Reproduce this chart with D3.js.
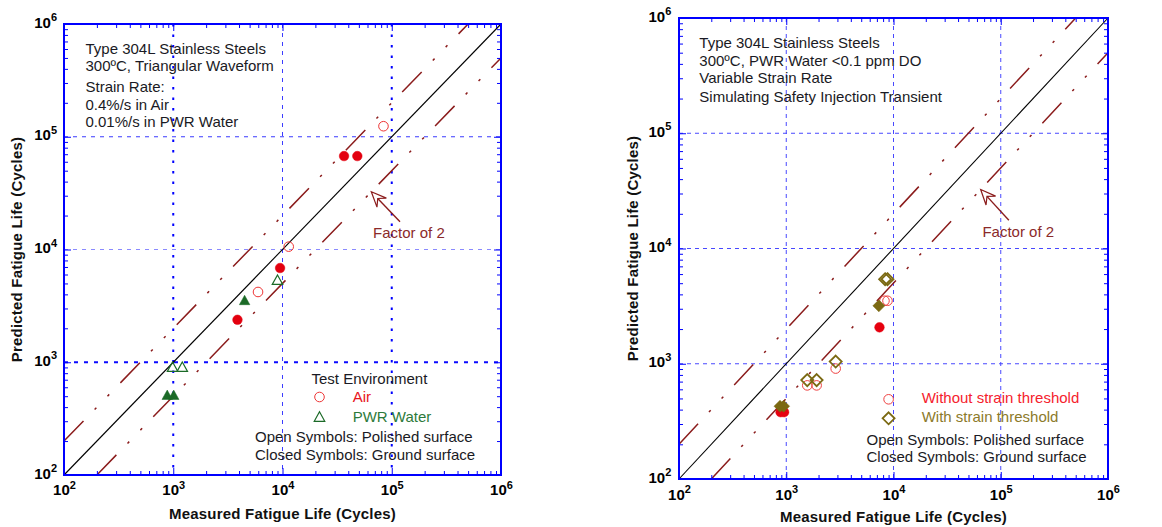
<!DOCTYPE html>
<html><head><meta charset="utf-8">
<script src="https://cdn.jsdelivr.net/npm/d3@7"></script>
<style>body{margin:0;background:#fff}svg{display:block}</style>
</head><body><svg id="c" width="1162" height="527"></svg>
<script>
// ---------------- data ----------------
const decadeTicks = [1e2, 1e3, 1e4, 1e5, 1e6];
const gridDecades = [1e3, 1e4, 1e5];
const minorMultipliers = [2, 3, 4, 5, 6, 7, 8, 9];
const xTitle = "Measured Fatigue Life (Cycles)";
const yTitle = "Predicted Fatigue Life (Cycles)";

// left panel: [measured, predicted]
const airPolished = [[8.4e4, 1.24e5], [1.14e4, 1.06e4], [5.97e3, 4.2e3]];
const airGround = [[3.66e4, 6.74e4], [4.84e4, 6.74e4], [9.5e3, 6.85e3], [3.87e3, 2.38e3]];
const pwrPolished = [[9.0e3, 5.3e3], [986, 895], [1.21e3, 895]];
const pwrGround = [[4.5e3, 3.5e3], [881, 505], [1.01e3, 505]];
const leftNotes = ["Type 304L Stainless Steels", "300ºC, Triangular Waveform", "Strain Rate:", "0.4%/s in Air", "0.01%/s in PWR Water"];
const leftLegendTitle = "Test Environment";
const leftLegendItems = ["Air", "PWR Water"];
const surfaceNotes = ["Open Symbols: Polished surface", "Closed Symbols: Ground surface"];

// right panel: [measured, predicted]
const withoutPolished = [[8.24e3, 3.52e3], [8.79e3, 3.52e3], [2.89e3, 908], [1.57e3, 649], [1.92e3, 649]];
const withoutGround = [[7.4e3, 2.07e3], [885, 380], [955, 380]];
const withPolished = [[8.35e3, 5.42e3], [8.79e3, 5.42e3], [2.89e3, 1.045e3], [1.57e3, 721], [1.92e3, 721]];
const withGround = [[7.3e3, 3.18e3], [875, 428], [945, 428]];
const rightNotes = ["Type 304L Stainless Steels", "300ºC, PWR Water <0.1 ppm DO", "Variable Strain Rate", "Simulating Safety Injection Transient"];
const rightLegendItems = ["Without strain threshold", "With strain threshold"];

// reference lines and annotation
const unityLine = [[1e2, 1e2], [1e6, 1e6]];
const upperFactorLine = [[1e2, 2e2], [5e5, 1e6]];
const lowerFactorLine = [[2e2, 1e2], [1e6, 5e5]];
const factorLabel = "Factor of 2";
const factorArrowTip = [6.5e4, 3.25e4];
const factorArrowTail = [1.19e5, 1.76e4];
const factorLabelAt = [6.75e4, 1.27e4];

// ---------------- drawing ----------------
const FONT = '"Liberation Sans", Arial, Helvetica, sans-serif';
const FS = 15;
const svg = d3.select("#c");
const TXT = "#1a1a24";
const FACTOR_C = "#8b1c1c";

function triPath(cx, cy, s) {
  const h = s * 0.9;
  return `M${cx},${cy - h * 0.6}L${cx + s / 2},${cy + h * 0.4}L${cx - s / 2},${cy + h * 0.4}Z`;
}
function diaPath(cx, cy, r) {
  return `M${cx},${cy - r}L${cx + r},${cy}L${cx},${cy + r}L${cx - r},${cy}Z`;
}

function drawPanel(p) {
  const x = d3.scaleLog().domain([1e2, 1e6]).range([p.left, p.right]);
  const y = d3.scaleLog().domain([1e2, 1e6]).range([p.bottom, p.top]);
  const g = svg.append("g");

  // grid
  gridDecades.forEach((v, i) => {
    const vs = p.vGrid[i], hs = p.hGrid[i];
    g.append("line").attr("x1", x(v)).attr("x2", x(v)).attr("y1", p.top).attr("y2", p.bottom)
      .attr("stroke", vs.c).attr("stroke-width", vs.w).attr("stroke-dasharray", vs.d);
    g.append("line").attr("y1", y(v)).attr("y2", y(v)).attr("x1", p.left).attr("x2", p.right)
      .attr("stroke", hs.c).attr("stroke-width", hs.w).attr("stroke-dasharray", hs.d);
  });

  const line = d3.line().x(d => x(d[0])).y(d => y(d[1]));
  [upperFactorLine, lowerFactorLine].forEach(L => {
    g.append("path").attr("d", line(L)).attr("fill", "none").attr("stroke", FACTOR_C)
      .attr("stroke-width", 1.5).attr("stroke-dasharray", "28,16,2.5,16,2.5,16");
  });
  g.append("path").attr("d", line(unityLine)).attr("fill", "none").attr("stroke", "#000").attr("stroke-width", 1.1);

  // markers
  p.series.forEach(s => {
    s.data.forEach(d => {
      const cx = x(d[0]), cy = y(d[1]);
      let el;
      if (s.shape === "circle") el = g.append("circle").attr("cx", cx).attr("cy", cy).attr("r", s.filled ? 4.8 : 4.8);
      else if (s.shape === "tri") el = g.append("path").attr("d", triPath(cx, cy, 10.5));
      else el = g.append("path").attr("d", diaPath(cx, cy, 6));
      if (s.filled) el.attr("fill", s.color).attr("stroke", s.color).attr("stroke-width", 0.5);
      else el.attr("fill", "none").attr("stroke", s.stroke || s.color).attr("stroke-width", s.sw || 1.1);
    });
  });

  // arrow annotation
  {
    const tx = x(factorArrowTip[0]), ty = y(factorArrowTip[1]);
    const sx = x(factorArrowTail[0]), sy = y(factorArrowTail[1]);
    const dx = tx - sx, dy = ty - sy, len = Math.hypot(dx, dy);
    const ux = dx / len, uy = dy / len, nx = -uy, ny = ux;
    const L = 15, W = 6.5;
    const bx = tx - ux * L, by = ty - uy * L;
    const mx = tx - ux * L * 0.62, my = ty - uy * L * 0.62;
    g.append("line").attr("x1", sx).attr("y1", sy).attr("x2", mx).attr("y2", my)
      .attr("stroke", FACTOR_C).attr("stroke-width", 1.4);
    g.append("path").attr("d", `M${tx},${ty}L${bx + nx * W},${by + ny * W}L${mx},${my}L${bx - nx * W},${by - ny * W}Z`)
      .attr("fill", "#fff").attr("stroke", FACTOR_C).attr("stroke-width", 1.2);
    g.append("text").attr("x", x(factorLabelAt[0])).attr("y", y(factorLabelAt[1]))
      .attr("font-family", FONT).attr("font-size", FS).attr("fill", "#8b2a2a").text(factorLabel);
  }

  // ticks (inward, all four sides)
  const minors = [];
  [1e2, 1e3, 1e4, 1e5].forEach(dec => minorMultipliers.forEach(m => minors.push(dec * m)));
  const tickSets = [[decadeTicks, 7], [minors, 4]];
  tickSets.forEach(([vals, size]) => {
    const defs = [
      [d3.axisBottom(x), `translate(0,${p.bottom})`],
      [d3.axisTop(x), `translate(0,${p.top})`],
      [d3.axisLeft(y), `translate(${p.left},0)`],
      [d3.axisRight(y), `translate(${p.right},0)`]
    ];
    defs.forEach(([ax, tr]) => {
      const a = g.append("g").attr("transform", tr)
        .call(ax.tickValues(vals).tickSizeInner(-size).tickSizeOuter(0).tickFormat(""));
      a.select(".domain").remove();
      a.selectAll("text").remove();
      a.selectAll("line").attr("stroke", "#0000ff").attr("stroke-width", 1);
    });
  });

  // border
  g.append("rect").attr("x", p.left).attr("y", p.top).attr("width", p.right - p.left).attr("height", p.bottom - p.top)
    .attr("fill", "none").attr("stroke", "#0000ff").attr("stroke-width", 2);

  // tick labels
  function sup(sel) {
    sel.each(function (d) {
      const t = d3.select(this);
      t.text(null);
      t.append("tspan").text("10");
      t.append("tspan").attr("font-size", 11).attr("dy", -6.5).text(Math.round(Math.log10(d)));
    });
  }
  const bl = g.append("g").attr("transform", `translate(0,${p.bottom})`)
    .call(d3.axisBottom(x).tickValues(decadeTicks).tickSize(0).tickPadding(p.xPad));
  bl.select(".domain").remove();
  bl.attr("font-family", FONT).attr("font-size", 15).attr("font-weight", "bold").attr("color", "#000");
  sup(bl.selectAll("text"));
  const ll = g.append("g").attr("transform", `translate(${p.left},0)`)
    .call(d3.axisLeft(y).tickValues(decadeTicks).tickSize(0).tickPadding(p.yPad));
  ll.select(".domain").remove();
  ll.attr("font-family", FONT).attr("font-size", 15).attr("font-weight", "bold").attr("color", "#000");
  ll.selectAll("text").attr("dy", "0.2em");
  sup(ll.selectAll("text"));

  // axis titles
  g.append("text").attr("x", (p.left + p.right) / 2).attr("y", p.xTitleY).attr("text-anchor", "middle")
    .attr("font-family", FONT).attr("font-size", 15).attr("font-weight", "bold").attr("fill", "#111")
    .attr("letter-spacing", 0.2).text(xTitle);
  g.append("text").attr("transform", `translate(${p.yTitleX},${(p.top + p.bottom) / 2}) rotate(-90)`).attr("text-anchor", "middle")
    .attr("font-family", FONT).attr("font-size", 15).attr("font-weight", "bold").attr("fill", "#111")
    .attr("letter-spacing", 0.2).text(yTitle);

  // notes
  p.notes.forEach((t, i) => {
    g.append("text").attr("x", p.left + p.noteDx).attr("y", p.top + p.noteDy[i])
      .attr("font-family", FONT).attr("font-size", FS).attr("fill", TXT).text(t);
  });

  p.legend(g);
}

drawPanel({
  left: 64, right: 501, top: 24, bottom: 475,
  xPad: 9.5, yPad: 7, xTitleY: 519, yTitleX: 21.5,
  vGrid: [{c: "#0000ff", w: 2, d: "2.5,8"}, {c: "#3c3cff", w: 1, d: "4,5"}, {c: "#0000ff", w: 2, d: "2.5,8"}],
  hGrid: [{c: "#0a0aff", w: 2, d: "4,6"}, {c: "#8a8aff", w: 1, d: "4,5"}, {c: "#3a3aff", w: 1, d: "4,5"}],
  series: [
    {data: airPolished, shape: "circle", filled: false, color: "#ee3434", sw: 1},
    {data: airGround, shape: "circle", filled: true, color: "#e3000f"},
    {data: pwrPolished, shape: "tri", filled: false, color: "#1b6a27", sw: 1.2},
    {data: pwrGround, shape: "tri", filled: true, color: "#1b6a27"}
  ],
  notes: leftNotes, noteDx: 21.5, noteDy: [30.3, 47, 68.3, 86, 102.7],
  legend: g => {
    const f = (x, y, t, c) => g.append("text").attr("x", x).attr("y", y).attr("font-family", FONT)
      .attr("font-size", FS).attr("fill", c).text(t);
    f(311.5, 383.5, leftLegendTitle, TXT);
    g.append("circle").attr("cx", 319.5).attr("cy", 397).attr("r", 4.8).attr("fill", "none").attr("stroke", "#ee3434").attr("stroke-width", 1);
    f(352.7, 402, leftLegendItems[0], "#e8141c");
    g.append("path").attr("d", triPath(319.5, 417.5, 10.5)).attr("fill", "none").attr("stroke", "#1b6a27").attr("stroke-width", 1.2);
    f(352.7, 422.3, leftLegendItems[1], "#2d7a3a");
    f(255, 442.4, surfaceNotes[0], TXT);
    f(255, 459.9, surfaceNotes[1], TXT);
  }
});

const rg = {c: "#4848ff", w: 1, d: "4,4"};
drawPanel({
  left: 679, right: 1108, top: 18, bottom: 479,
  xPad: 10.2, yPad: 7.7, xTitleY: 522, yTitleX: 638,
  vGrid: [rg, rg, rg], hGrid: [rg, rg, rg],
  series: [
    {data: withoutPolished, shape: "circle", filled: false, color: "#ef4040", sw: 1},
    {data: withoutGround, shape: "circle", filled: true, color: "#e6000f"},
    {data: withPolished, shape: "dia", filled: false, color: "#7b6912", sw: 1.8},
    {data: withGround, shape: "dia", filled: true, color: "#7b6912"}
  ],
  notes: rightNotes, noteDx: 20.3, noteDy: [30.3, 47.7, 65.3, 83.7],
  legend: g => {
    const f = (x, y, t, c) => g.append("text").attr("x", x).attr("y", y).attr("font-family", FONT)
      .attr("font-size", FS).attr("fill", c).text(t);
    g.append("circle").attr("cx", 888.6).attr("cy", 399.3).attr("r", 4.8).attr("fill", "none").attr("stroke", "#ef4040").attr("stroke-width", 1);
    f(921.7, 403.3, rightLegendItems[0], "#f5222d");
    g.append("path").attr("d", diaPath(888.6, 418.3, 6)).attr("fill", "none").attr("stroke", "#7b6912").attr("stroke-width", 1.8);
    f(921.7, 422.3, rightLegendItems[1], "#8c7a2a");
    f(866.5, 445, surfaceNotes[0], TXT);
    f(866.5, 461.6, surfaceNotes[1], TXT);
  }
});
</script>
</body></html>
